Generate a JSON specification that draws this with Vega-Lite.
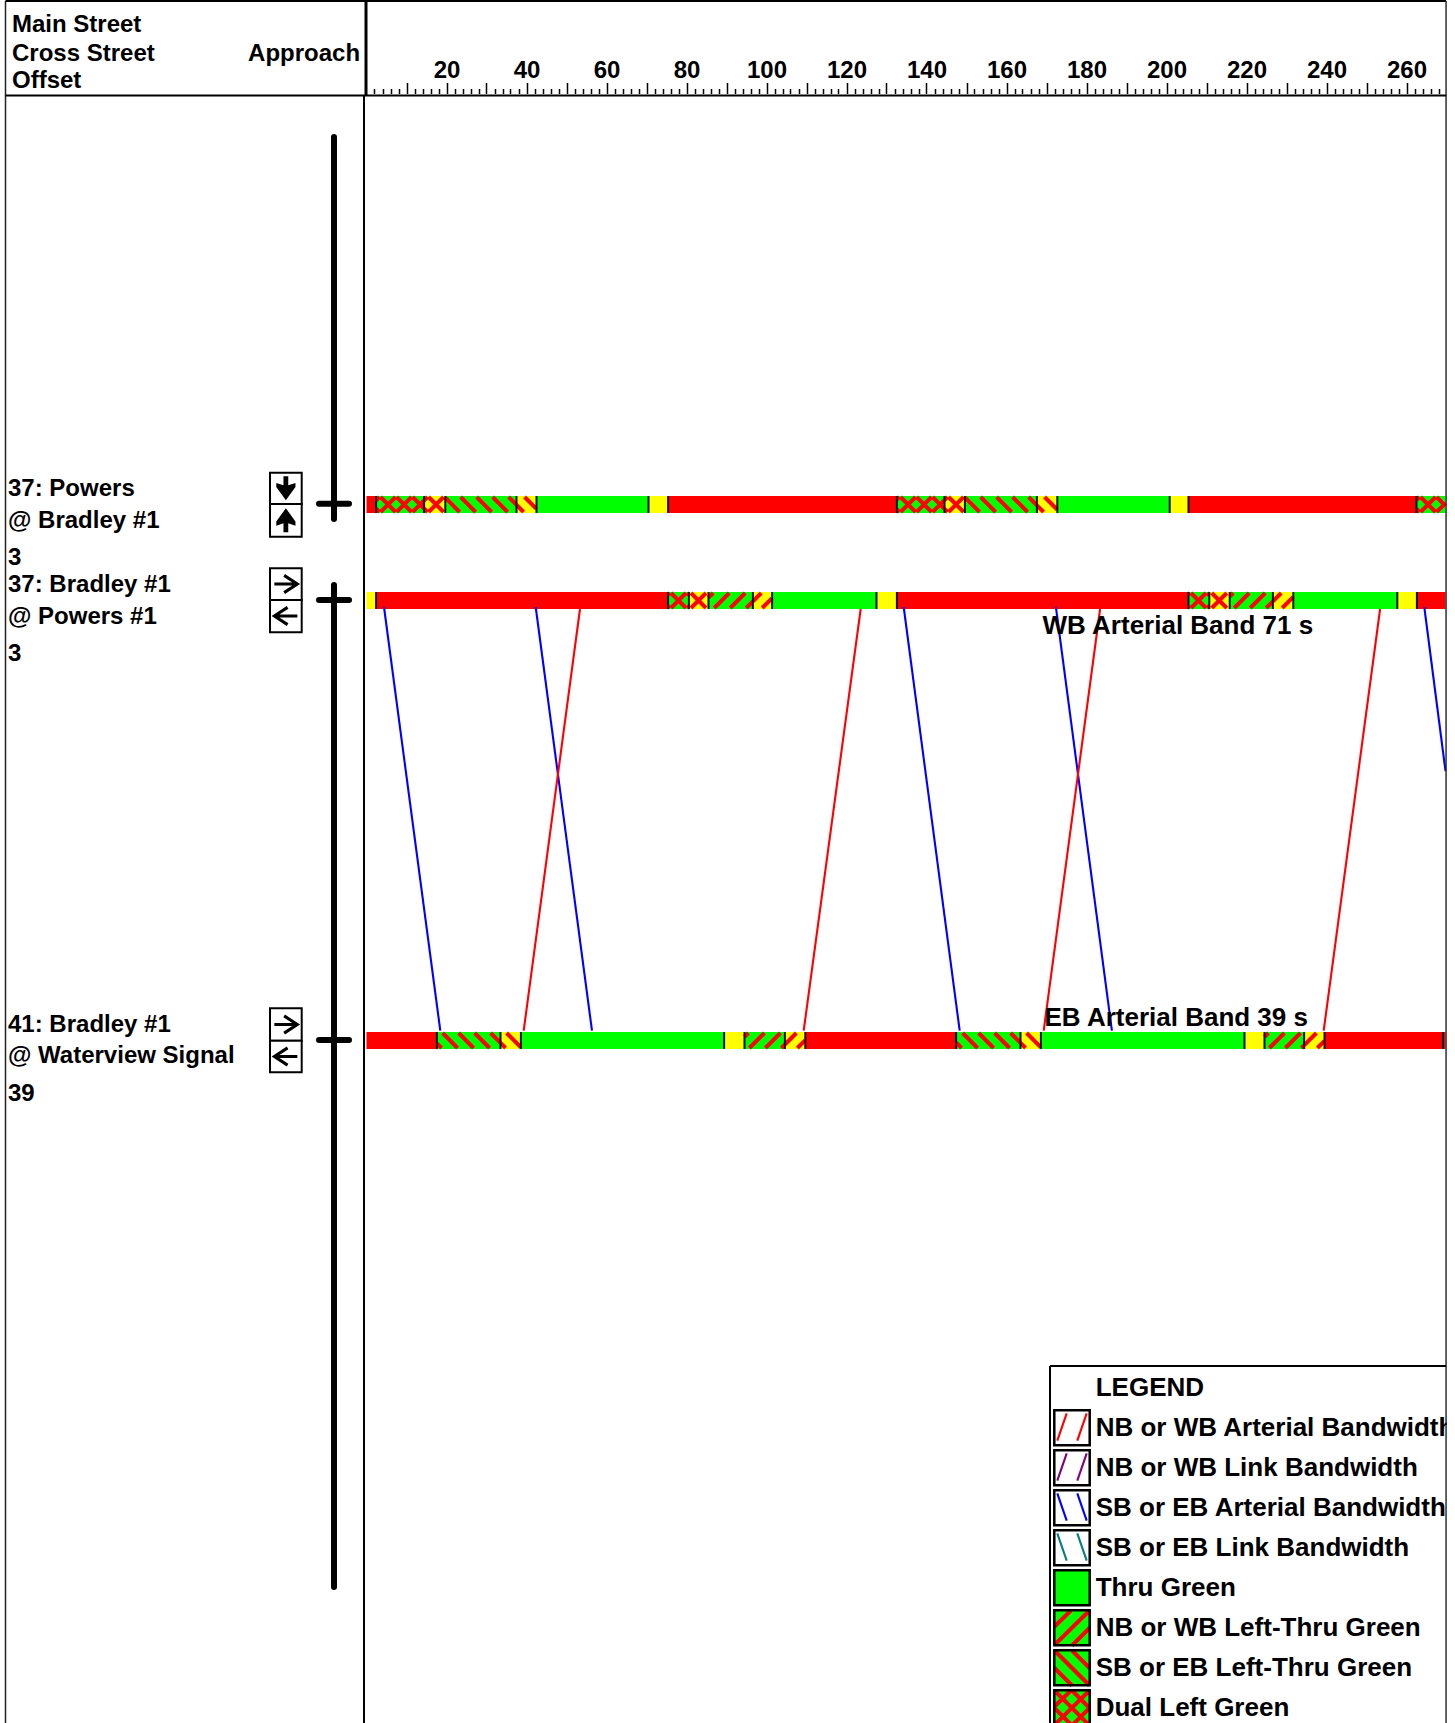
{"$schema":"https://vega.github.io/schema/vega-lite/v6.json","width":1455,"height":1723,"autosize":{"type":"none"},"padding":0,"background":"white","config":{"view":{"stroke":null},"text":{"font":"Liberation Sans"}},
"datasets":{
"segments":[
{"row":1,"t":0,"t2":2.4,"d":496,"d2":513,"phase":"Red"},{"row":1,"t":2.4,"t2":14.4,"d":496,"d2":513,"phase":"Dual Left Green"},{"row":1,"t":14.4,"t2":19.7,"d":496,"d2":513,"phase":"Dual Left Yellow"},{"row":1,"t":19.7,"t2":37.5,"d":496,"d2":513,"phase":"SB or EB Left-Thru Green"},{"row":1,"t":37.5,"t2":42.5,"d":496,"d2":513,"phase":"SB or EB Left-Thru Yellow"},{"row":1,"t":42.5,"t2":70.5,"d":496,"d2":513,"phase":"Thru Green"},{"row":1,"t":70.5,"t2":75.4,"d":496,"d2":513,"phase":"Yellow"},{"row":1,"t":75.4,"t2":132.6,"d":496,"d2":513,"phase":"Red"},{"row":1,"t":132.6,"t2":144.5,"d":496,"d2":513,"phase":"Dual Left Green"},{"row":1,"t":144.5,"t2":149.6,"d":496,"d2":513,"phase":"Dual Left Yellow"},{"row":1,"t":149.6,"t2":167.6,"d":496,"d2":513,"phase":"SB or EB Left-Thru Green"},{"row":1,"t":167.6,"t2":172.7,"d":496,"d2":513,"phase":"SB or EB Left-Thru Yellow"},{"row":1,"t":172.7,"t2":200.8,"d":496,"d2":513,"phase":"Thru Green"},{"row":1,"t":200.8,"t2":205.5,"d":496,"d2":513,"phase":"Yellow"},{"row":1,"t":205.5,"t2":262.5,"d":496,"d2":513,"phase":"Red"},{"row":1,"t":262.5,"t2":269.75,"d":496,"d2":513,"phase":"Dual Left Green"},
{"row":2,"t":0,"t2":2.4,"d":592,"d2":609,"phase":"Yellow"},{"row":2,"t":2.4,"t2":75.4,"d":592,"d2":609,"phase":"Red"},{"row":2,"t":75.4,"t2":80.6,"d":592,"d2":609,"phase":"Dual Left Green"},{"row":2,"t":80.6,"t2":85.5,"d":592,"d2":609,"phase":"Dual Left Yellow"},{"row":2,"t":85.5,"t2":96.6,"d":592,"d2":609,"phase":"NB or WB Left-Thru Green"},{"row":2,"t":96.6,"t2":101.4,"d":592,"d2":609,"phase":"NB or WB Left-Thru Yellow"},{"row":2,"t":101.4,"t2":127.5,"d":592,"d2":609,"phase":"Thru Green"},{"row":2,"t":127.5,"t2":132.6,"d":592,"d2":609,"phase":"Yellow"},{"row":2,"t":132.6,"t2":205.5,"d":592,"d2":609,"phase":"Red"},{"row":2,"t":205.5,"t2":210.7,"d":592,"d2":609,"phase":"Dual Left Green"},{"row":2,"t":210.7,"t2":215.8,"d":592,"d2":609,"phase":"Dual Left Yellow"},{"row":2,"t":215.8,"t2":226.6,"d":592,"d2":609,"phase":"NB or WB Left-Thru Green"},{"row":2,"t":226.6,"t2":231.7,"d":592,"d2":609,"phase":"NB or WB Left-Thru Yellow"},{"row":2,"t":231.7,"t2":257.7,"d":592,"d2":609,"phase":"Thru Green"},{"row":2,"t":257.7,"t2":262.6,"d":592,"d2":609,"phase":"Yellow"},{"row":2,"t":262.6,"t2":269.75,"d":592,"d2":609,"phase":"Red"},
{"row":3,"t":0,"t2":17.6,"d":1032,"d2":1049,"phase":"Red"},{"row":3,"t":17.6,"t2":33.5,"d":1032,"d2":1049,"phase":"SB or EB Left-Thru Green"},{"row":3,"t":33.5,"t2":38.6,"d":1032,"d2":1049,"phase":"SB or EB Left-Thru Yellow"},{"row":3,"t":38.6,"t2":89.4,"d":1032,"d2":1049,"phase":"Thru Green"},{"row":3,"t":89.4,"t2":94.5,"d":1032,"d2":1049,"phase":"Yellow"},{"row":3,"t":94.5,"t2":104.6,"d":1032,"d2":1049,"phase":"NB or WB Left-Thru Green"},{"row":3,"t":104.6,"t2":109.7,"d":1032,"d2":1049,"phase":"NB or WB Left-Thru Yellow"},{"row":3,"t":109.7,"t2":147.4,"d":1032,"d2":1049,"phase":"Red"},{"row":3,"t":147.4,"t2":163.5,"d":1032,"d2":1049,"phase":"SB or EB Left-Thru Green"},{"row":3,"t":163.5,"t2":168.6,"d":1032,"d2":1049,"phase":"SB or EB Left-Thru Yellow"},{"row":3,"t":168.6,"t2":219.5,"d":1032,"d2":1049,"phase":"Thru Green"},{"row":3,"t":219.5,"t2":224.5,"d":1032,"d2":1049,"phase":"Yellow"},{"row":3,"t":224.5,"t2":234.4,"d":1032,"d2":1049,"phase":"NB or WB Left-Thru Green"},{"row":3,"t":234.4,"t2":239.5,"d":1032,"d2":1049,"phase":"NB or WB Left-Thru Yellow"},{"row":3,"t":239.5,"t2":269.1,"d":1032,"d2":1049,"phase":"Red"},{"row":3,"t":269.1,"t2":269.75,"d":1032,"d2":1049,"phase":"Red"}
],
"swatches":[
{"t":171.95,"t2":180.8,"d":1410.3,"d2":1445.3,"phase":"Empty"},{"t":171.95,"t2":180.8,"d":1450.3,"d2":1485.3,"phase":"Empty"},{"t":171.95,"t2":180.8,"d":1490.3,"d2":1525.3,"phase":"Empty"},{"t":171.95,"t2":180.8,"d":1530.3,"d2":1565.3,"phase":"Empty"},{"t":171.95,"t2":180.8,"d":1570.3,"d2":1605.3,"phase":"Thru Green"},{"t":171.95,"t2":180.8,"d":1610.3,"d2":1645.3,"phase":"NB or WB Left-Thru Green"},{"t":171.95,"t2":180.8,"d":1650.3,"d2":1685.3,"phase":"SB or EB Left-Thru Green"},{"t":171.95,"t2":180.8,"d":1690.3,"d2":1725.3,"phase":"Dual Left Green"}
],
"stripes":[
{"t":2.4,"t2":3.275,"d":508.5,"d2":512},{"t":2.4,"t2":3.275,"d":500.5,"d2":497},{"t":3.525,"t2":7.275,"d":497,"d2":512},{"t":3.525,"t2":7.275,"d":512,"d2":497},{"t":7.525,"t2":11.275,"d":497,"d2":512},{"t":7.525,"t2":11.275,"d":512,"d2":497},{"t":11.525,"t2":14.4,"d":497,"d2":508.5},{"t":11.525,"t2":14.4,"d":512,"d2":500.5},
{"t":14.4,"t2":15.275,"d":508.5,"d2":512},{"t":14.4,"t2":15.275,"d":500.5,"d2":497},{"t":15.525,"t2":19.275,"d":497,"d2":512},{"t":15.525,"t2":19.275,"d":512,"d2":497},
{"t":19.7,"t2":23.275,"d":497.7,"d2":512},{"t":23.525,"t2":27.275,"d":497,"d2":512},{"t":27.525,"t2":31.275,"d":497,"d2":512},{"t":31.525,"t2":35.275,"d":497,"d2":512},{"t":35.525,"t2":37.5,"d":497,"d2":504.9},
{"t":37.5,"t2":39.275,"d":504.9,"d2":512},{"t":39.525,"t2":42.5,"d":497,"d2":508.9},
{"t":132.6,"t2":133.275,"d":509.3,"d2":512},{"t":132.6,"t2":133.275,"d":499.7,"d2":497},{"t":133.525,"t2":137.275,"d":497,"d2":512},{"t":133.525,"t2":137.275,"d":512,"d2":497},{"t":137.525,"t2":141.275,"d":497,"d2":512},{"t":137.525,"t2":141.275,"d":512,"d2":497},{"t":141.525,"t2":144.5,"d":497,"d2":508.9},{"t":141.525,"t2":144.5,"d":512,"d2":500.1},
{"t":144.5,"t2":145.275,"d":508.9,"d2":512},{"t":144.5,"t2":145.275,"d":500.1,"d2":497},{"t":145.525,"t2":149.275,"d":497,"d2":512},{"t":145.525,"t2":149.275,"d":512,"d2":497},
{"t":149.6,"t2":153.275,"d":497.3,"d2":512},{"t":153.525,"t2":157.275,"d":497,"d2":512},{"t":157.525,"t2":161.275,"d":497,"d2":512},{"t":161.525,"t2":165.275,"d":497,"d2":512},{"t":165.525,"t2":167.6,"d":497,"d2":505.3},
{"t":167.6,"t2":169.275,"d":505.3,"d2":512},{"t":169.525,"t2":172.7,"d":497,"d2":509.7},
{"t":262.5,"t2":263.275,"d":508.9,"d2":512},{"t":262.5,"t2":263.275,"d":500.1,"d2":497},{"t":263.525,"t2":267.275,"d":497,"d2":512},{"t":263.525,"t2":267.275,"d":512,"d2":497},{"t":267.525,"t2":269.75,"d":497,"d2":505.9},{"t":267.525,"t2":269.75,"d":512,"d2":503.1},
{"t":75.4,"t2":75.875,"d":606.1,"d2":608},{"t":75.4,"t2":75.875,"d":594.9,"d2":593},{"t":76.125,"t2":79.875,"d":593,"d2":608},{"t":76.125,"t2":79.875,"d":608,"d2":593},{"t":80.125,"t2":80.6,"d":593,"d2":594.9},{"t":80.125,"t2":80.6,"d":608,"d2":606.1},
{"t":81.125,"t2":84.875,"d":593,"d2":608},{"t":81.125,"t2":84.875,"d":608,"d2":593},
{"t":85.5,"t2":86.675,"d":597.7,"d2":593},{"t":86.925,"t2":90.675,"d":608,"d2":593},{"t":90.925,"t2":94.675,"d":608,"d2":593},{"t":94.925,"t2":96.6,"d":608,"d2":601.3},
{"t":96.6,"t2":98.675,"d":601.3,"d2":593},{"t":98.925,"t2":101.4,"d":608,"d2":598.1},
{"t":205.5,"t2":205.875,"d":606.5,"d2":608},{"t":205.5,"t2":205.875,"d":594.5,"d2":593},{"t":206.125,"t2":209.875,"d":593,"d2":608},{"t":206.125,"t2":209.875,"d":608,"d2":593},{"t":210.125,"t2":210.7,"d":593,"d2":595.3},{"t":210.125,"t2":210.7,"d":608,"d2":605.7},
{"t":211.325,"t2":215.075,"d":593,"d2":608},{"t":211.325,"t2":215.075,"d":608,"d2":593},
{"t":215.8,"t2":216.675,"d":596.5,"d2":593},{"t":216.925,"t2":220.675,"d":608,"d2":593},{"t":220.925,"t2":224.675,"d":608,"d2":593},{"t":224.925,"t2":226.6,"d":608,"d2":601.3},
{"t":226.6,"t2":228.675,"d":601.3,"d2":593},{"t":228.925,"t2":231.7,"d":608,"d2":596.9},
{"t":17.6,"t2":18.775,"d":1043.3,"d2":1048},{"t":19.025,"t2":22.775,"d":1033,"d2":1048},{"t":23.025,"t2":26.775,"d":1033,"d2":1048},{"t":27.025,"t2":30.775,"d":1033,"d2":1048},{"t":31.025,"t2":33.5,"d":1033,"d2":1042.9},
{"t":33.5,"t2":34.775,"d":1042.9,"d2":1048},{"t":35.025,"t2":38.6,"d":1033,"d2":1047.3},
{"t":94.5,"t2":95.475,"d":1036.9,"d2":1033},{"t":95.725,"t2":99.475,"d":1048,"d2":1033},{"t":99.725,"t2":103.475,"d":1048,"d2":1033},{"t":103.725,"t2":104.6,"d":1048,"d2":1044.5},
{"t":104.6,"t2":107.475,"d":1044.5,"d2":1033},{"t":107.725,"t2":109.7,"d":1048,"d2":1040.1},
{"t":147.4,"t2":148.775,"d":1042.5,"d2":1048},{"t":149.025,"t2":152.775,"d":1033,"d2":1048},{"t":153.025,"t2":156.775,"d":1033,"d2":1048},{"t":157.025,"t2":160.775,"d":1033,"d2":1048},{"t":161.025,"t2":163.5,"d":1033,"d2":1042.9},
{"t":163.5,"t2":164.775,"d":1042.9,"d2":1048},{"t":165.025,"t2":168.6,"d":1033,"d2":1047.3},
{"t":224.5,"t2":225.475,"d":1036.9,"d2":1033},{"t":225.725,"t2":229.475,"d":1048,"d2":1033},{"t":229.725,"t2":233.475,"d":1048,"d2":1033},{"t":233.725,"t2":234.4,"d":1048,"d2":1045.3},
{"t":234.4,"t2":237.475,"d":1045.3,"d2":1033},{"t":237.725,"t2":239.5,"d":1048,"d2":1040.9},
{"t":172,"t2":176.125,"d":1626.5,"d2":1610.5},{"t":172,"t2":180.75,"d":1645,"d2":1610.5},{"t":176.375,"t2":180.75,"d":1645.5,"d2":1628},
{"t":172,"t2":180.75,"d":1650.5,"d2":1685.5},{"t":176.375,"t2":180.75,"d":1650.5,"d2":1668},{"t":172,"t2":176.375,"d":1668,"d2":1685.5},
{"t":172,"t2":176.125,"d":1706.5,"d2":1690.5},{"t":172,"t2":180.75,"d":1725,"d2":1690.5},{"t":176.375,"t2":180.75,"d":1725.5,"d2":1708},{"t":172,"t2":180.75,"d":1690.5,"d2":1725.5},{"t":176.375,"t2":180.75,"d":1690.5,"d2":1708},{"t":172,"t2":176.375,"d":1708,"d2":1725.5}
],
"bands":[
{"kind":"SB or EB Arterial Bandwidth","t":4.375,"t2":18.45,"d":607,"d2":1030.7},{"kind":"SB or EB Arterial Bandwidth","t":42.3,"t2":56.375,"d":607,"d2":1030.7},{"kind":"SB or EB Arterial Bandwidth","t":134.3,"t2":148.3,"d":607,"d2":1030.7},{"kind":"SB or EB Arterial Bandwidth","t":172.35,"t2":186.35,"d":607,"d2":1030.7},{"kind":"SB or EB Arterial Bandwidth","t":264.45,"t2":269.75,"d":607,"d2":771},
{"kind":"NB or WB Arterial Bandwidth","t":39.3,"t2":53.375,"d":1030.7,"d2":609},{"kind":"NB or WB Arterial Bandwidth","t":109.3,"t2":123.55,"d":1030.7,"d2":609},{"kind":"NB or WB Arterial Bandwidth","t":169.3,"t2":183.4,"d":1030.7,"d2":609},{"kind":"NB or WB Arterial Bandwidth","t":239.3,"t2":253.4,"d":1030.7,"d2":609},
{"kind":"NB or WB Arterial Bandwidth","t":172.7,"t2":175.05,"d":1440.7,"d2":1413.3},{"kind":"NB or WB Arterial Bandwidth","t":177.7,"t2":180.05,"d":1440.7,"d2":1413.3},
{"kind":"NB or WB Link Bandwidth","t":172.7,"t2":175.05,"d":1480.7,"d2":1453.3},{"kind":"NB or WB Link Bandwidth","t":177.7,"t2":180.05,"d":1480.7,"d2":1453.3},
{"kind":"SB or EB Arterial Bandwidth","t":172.7,"t2":175.05,"d":1493.3,"d2":1520.7},{"kind":"SB or EB Arterial Bandwidth","t":177.7,"t2":180.05,"d":1493.3,"d2":1520.7},
{"kind":"SB or EB Link Bandwidth","t":172.7,"t2":175.05,"d":1533.3,"d2":1560.7},{"kind":"SB or EB Link Bandwidth","t":177.7,"t2":180.05,"d":1533.3,"d2":1560.7}
],
"frameThin":[{"t":-90.25,"t2":-90.25,"d":1,"d2":1723},{"t":269.9,"t2":269.9,"d":1,"d2":1723}],
"frameMid":[{"t":-90.25,"t2":269.9,"d":1,"d2":1},{"t":-90.25,"t2":269.9,"d":95.5,"d2":95.5},{"t":-0.625,"t2":-0.625,"d":95.5,"d2":1723},{"t":170.875,"t2":269.9,"d":1366,"d2":1366},{"t":170.875,"t2":170.875,"d":1366,"d2":1723}],
"frameThick":[{"t":-0.125,"t2":-0.125,"d":1,"d2":95}],
"corridor":[{"t":-8.125,"t2":-8.125,"d":137,"d2":519},{"t":-8.125,"t2":-8.125,"d":585,"d2":1587},{"t":-11.875,"t2":-4.375,"d":503.7,"d2":503.7},{"t":-11.875,"t2":-4.375,"d":600,"d2":600},{"t":-11.875,"t2":-4.375,"d":1040,"d2":1040}],
"iconBoxes":[{"t":-24.125,"t2":-16.2,"d":472.7,"d2":504},{"t":-24.125,"t2":-16.2,"d":504,"d2":536.7},{"t":-24.125,"t2":-16.2,"d":568.3,"d2":600},{"t":-24.125,"t2":-16.2,"d":600,"d2":632.3},{"t":-24.125,"t2":-16.2,"d":1008.3,"d2":1040.7},{"t":-24.125,"t2":-16.2,"d":1040.7,"d2":1072.3}],
"arrowsV":[{"t":-20.16,"d":488.3,"dir":"down"},{"t":-20.16,"d":520.3,"dir":"up"}],
"arrowsH":[{"t":-20.16,"d":584,"dir":"right"},{"t":-20.16,"d":616,"dir":"left"},{"t":-20.16,"d":1024.5,"dir":"right"},{"t":-20.16,"d":1056.5,"dir":"left"}],
"labels":[
{"label":"Main Street","t":-88.625,"d":32},{"label":"Cross Street","t":-88.625,"d":61},{"label":"Offset","t":-88.625,"d":88},
{"label":"37: Powers","t":-89.625,"d":495.7},{"label":"@ Bradley #1","t":-89.625,"d":528},{"label":"3","t":-89.625,"d":565},
{"label":"37: Bradley #1","t":-89.625,"d":592.3},{"label":"@ Powers #1","t":-89.625,"d":624},{"label":"3","t":-89.625,"d":661},
{"label":"41: Bradley #1","t":-89.625,"d":1031.7},{"label":"@ Waterview Signal","t":-89.625,"d":1063.3},{"label":"39","t":-89.625,"d":1101}
],
"approach":[{"label":"Approach","t":-1.6,"d":61}],
"bigLabels":[
{"label":"WB Arterial Band 71 s","t":169,"d":634},{"label":"EB Arterial Band 39 s","t":169.5,"d":1026},
{"label":"LEGEND","t":182.3,"d":1396},{"label":"NB or WB Arterial Bandwidth","t":182.3,"d":1435.7},{"label":"NB or WB Link Bandwidth","t":182.3,"d":1475.7},{"label":"SB or EB Arterial Bandwidth","t":182.3,"d":1515.7},{"label":"SB or EB Link Bandwidth","t":182.3,"d":1555.7},{"label":"Thru Green","t":182.3,"d":1595.7},{"label":"NB or WB Left-Thru Green","t":182.3,"d":1635.7},{"label":"SB or EB Left-Thru Green","t":182.3,"d":1675.7},{"label":"Dual Left Green","t":182.3,"d":1715.7}
],
"cover":[{"t":270.1,"t2":272.125,"d":0,"d2":1723}]
},
"encoding":{
"x":{"field":"t","type":"quantitative","title":null,"scale":{"domain":[-91.625,272.125],"nice":false,"zero":false},
 "axis":{"orient":"top","offset":-93.5,"domain":false,"grid":false,"title":null,"values":[2,4,6,8,10,12,14,16,18,20,22,24,26,28,30,32,34,36,38,40,42,44,46,48,50,52,54,56,58,60,62,64,66,68,70,72,74,76,78,80,82,84,86,88,90,92,94,96,98,100,102,104,106,108,110,112,114,116,118,120,122,124,126,128,130,132,134,136,138,140,142,144,146,148,150,152,154,156,158,160,162,164,166,168,170,172,174,176,178,180,182,184,186,188,190,192,194,196,198,200,202,204,206,208,210,212,214,216,218,220,222,224,226,228,230,232,234,236,238,240,242,244,246,248,250,252,254,256,258,260,262,264,266,268],
 "tickColor":"black","tickWidth":1.5,"tickSize":{"condition":{"test":"datum.value % 10 === 0","value":11},"value":5},
 "labelExpr":"datum.value % 20 === 0 ? datum.label : ''","labelOverlap":false,"labelBound":false,"labelFlush":false,"labelFont":"Liberation Sans","labelFontWeight":"bold","labelFontSize":24,"labelColor":"black","labelPadding":5,"labelBaseline":"alphabetic","labelAlign":"center","format":"d"}},
"y":{"field":"d","type":"quantitative","title":null,"axis":null,"scale":{"domain":[0,1723],"reverse":true,"nice":false,"zero":false}}
},
"layer":[
{"data":{"name":"segments"},"mark":{"type":"rect"},"encoding":{"x2":{"field":"t2"},"y2":{"field":"d2"},"fill":{"field":"phase","type":"nominal","legend":null,"scale":{"domain":["Red","Thru Green","Yellow","Dual Left Green","Dual Left Yellow","NB or WB Left-Thru Green","NB or WB Left-Thru Yellow","SB or EB Left-Thru Green","SB or EB Left-Thru Yellow","Empty"],"range":["#ff0000","#00ff00","#ffff00","#00ff00","#ffff00","#00ff00","#ffff00","#00ff00","#ffff00","#ffffff"]}}}},
{"data":{"name":"swatches"},"mark":{"type":"rect"},"encoding":{"x2":{"field":"t2"},"y2":{"field":"d2"},"fill":{"field":"phase","type":"nominal","legend":null}}},
{"data":{"name":"stripes"},"mark":{"type":"rule","color":"#ff0000","strokeWidth":4},"encoding":{"x2":{"field":"t2"},"y2":{"field":"d2"}}},
{"data":{"name":"segments"},"transform":[{"filter":"datum.t > 0"}],"mark":{"type":"rule","color":"#111111","strokeWidth":2},"encoding":{"y2":{"field":"d2"}}},
{"data":{"name":"swatches"},"mark":{"type":"rect","fillOpacity":0,"stroke":"black","strokeWidth":2.5},"encoding":{"x2":{"field":"t2"},"y2":{"field":"d2"}}},
{"data":{"name":"bands"},"mark":{"type":"rule","strokeWidth":2.1},"encoding":{"x2":{"field":"t2"},"y2":{"field":"d2"},"color":{"field":"kind","type":"nominal","legend":null,"scale":{"domain":["NB or WB Arterial Bandwidth","NB or WB Link Bandwidth","SB or EB Arterial Bandwidth","SB or EB Link Bandwidth"],"range":["#ff0000","#800080","#0000ff","#008080"]}}}},
{"data":{"name":"frameThin"},"mark":{"type":"rule","color":"#222222","strokeWidth":1.5},"encoding":{"x2":{"field":"t2"},"y2":{"field":"d2"}}},
{"data":{"name":"frameMid"},"mark":{"type":"rule","color":"black","strokeWidth":2},"encoding":{"x2":{"field":"t2"},"y2":{"field":"d2"}}},
{"data":{"name":"frameThick"},"mark":{"type":"rule","color":"black","strokeWidth":3},"encoding":{"x2":{"field":"t2"},"y2":{"field":"d2"}}},
{"data":{"name":"corridor"},"mark":{"type":"rule","color":"black","strokeWidth":6,"strokeCap":"round"},"encoding":{"x2":{"field":"t2"},"y2":{"field":"d2"}}},
{"data":{"name":"iconBoxes"},"mark":{"type":"rect","fill":"white","stroke":"black","strokeWidth":2},"encoding":{"x2":{"field":"t2"},"y2":{"field":"d2"}}},
{"data":{"name":"arrowsV"},"mark":{"type":"point","filled":true,"color":"black","opacity":1,"size":576},"encoding":{"shape":{"field":"dir","type":"nominal","legend":null,"scale":{"domain":["down","up","right","left"],"range":["M-.2,-1L.2,-1L.2,-.25L.8,-.45L.8,-.1L0,1L-.8,-.1L-.8,-.45L-.2,-.25Z","M-.2,1L.2,1L.2,.25L.8,.45L.8,.1L0,-1L-.8,.1L-.8,.45L-.2,.25Z","M-1,0L1,0M-.15,-.75L1,0L-.15,.75","M1,0L-1,0M.15,-.75L-1,0L.15,.75"]}}}},
{"data":{"name":"arrowsH"},"mark":{"type":"point","filled":false,"color":"black","opacity":1,"size":529,"strokeWidth":3},"encoding":{"shape":{"field":"dir","type":"nominal","legend":null}}},
{"data":{"name":"labels"},"mark":{"type":"text","font":"Liberation Sans","fontWeight":"bold","fontSize":24,"align":"left","baseline":"alphabetic","color":"black"},"encoding":{"text":{"field":"label"}}},
{"data":{"name":"approach"},"mark":{"type":"text","font":"Liberation Sans","fontWeight":"bold","fontSize":24,"align":"right","baseline":"alphabetic","color":"black"},"encoding":{"text":{"field":"label"}}},
{"data":{"name":"bigLabels"},"mark":{"type":"text","font":"Liberation Sans","fontWeight":"bold","fontSize":26,"align":"left","baseline":"alphabetic","color":"black"},"encoding":{"text":{"field":"label"}}},
{"data":{"name":"cover"},"mark":{"type":"rect","fill":"white"},"encoding":{"x2":{"field":"t2"},"y2":{"field":"d2"}}}
]}
